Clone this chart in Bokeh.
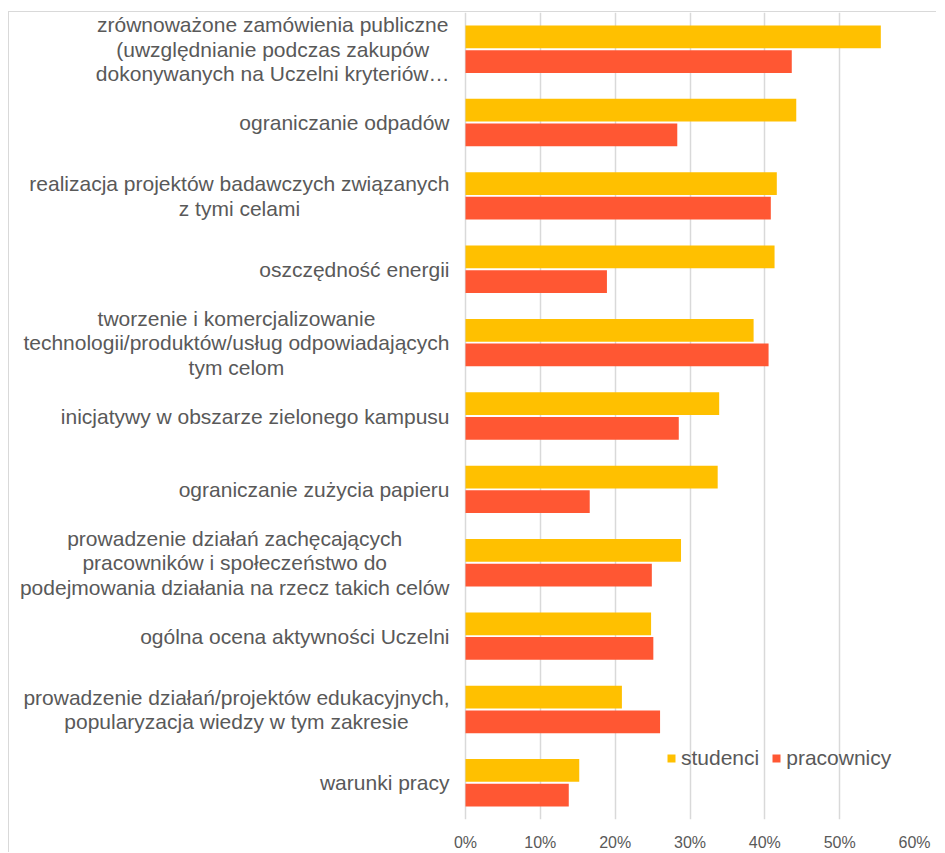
from bokeh.plotting import figure
from bokeh.models import (ColumnDataSource, FactorRange, Range1d, FixedTicker,
                          PrintfTickFormatter, Legend, LegendItem)
from bokeh.transform import dodge
from bokeh.core.properties import value
from bokeh.embed import file_html
from bokeh.resources import INLINE

# ---------------- data (top to bottom, as in the reference) ----------------
categories = [
    "zrównoważone zamówienia publiczne\n(uwzględnianie podczas zakupów\ndokonywanych na Uczelni kryteriów…",
    "ograniczanie odpadów",
    "realizacja projektów badawczych związanych\nz tymi celami",
    "oszczędność energii",
    "tworzenie i komercjalizowanie\ntechnologii/produktów/usług odpowiadających\ntym celom",
    "inicjatywy w obszarze zielonego kampusu",
    "ograniczanie zużycia papieru",
    "prowadzenie działań zachęcających\npracowników i społeczeństwo do\npodejmowania działania na rzecz takich celów",
    "ogólna ocena aktywności Uczelni",
    "prowadzenie działań/projektów edukacyjnych,\npopularyzacja wiedzy w tym zakresie",
    "warunki pracy",
]
studenci = [55.5, 44.2, 41.6, 41.3, 38.5, 33.9, 33.7, 28.8, 24.8, 20.9, 15.2]
pracownicy = [43.6, 28.3, 40.8, 18.9, 40.5, 28.5, 16.6, 24.9, 25.1, 26.0, 13.8]
x_ticks = [0, 10, 20, 30, 40, 50, 60]
series_names = ["studenci", "pracownicy"]

# ---------------- style ----------------
YELLOW = "#FFC000"
RED = "#FF5733"
GREY_TEXT = "#595959"
GRID = "#d9d9d9"
FONT = "Liberation Sans"

W, H = 928, 841
ZERO_PX = 456      # canvas x of 0 %
SPAN_PX = 449      # pixels from 0 % to 60 %
FRAME_H = 807

src = ColumnDataSource(dict(cat=categories, stud=studenci, prac=pracownicy))

p = figure(
    width=W, height=H,
    y_range=FactorRange(factors=list(reversed(categories))),
    x_range=Range1d(-ZERO_PX * x_ticks[-1] / SPAN_PX, x_ticks[-1]),
    output_backend="svg", toolbar_location=None,
    y_axis_location=None,
    min_border_left=0, min_border_right=W - ZERO_PX - SPAN_PX,
    min_border_top=0, min_border_bottom=H - FRAME_H,
)
p.styles = {"margin-top": "11px", "margin-left": "8px",
            "border-left": "1px solid #d9d9d9",
            "border-top": "1px solid #d9d9d9"}
p.outline_line_color = None
p.background_fill_color = "white"
p.border_fill_color = "white"

r1 = p.hbar(y=dodge("cat", 0.168, range=p.y_range), right="stud", left=0,
            height=0.31, source=src, fill_color=YELLOW, line_color=None)
r2 = p.hbar(y=dodge("cat", -0.168, range=p.y_range), right="prac", left=0,
            height=0.31, source=src, fill_color=RED, line_color=None)

# category labels, right-anchored block with centred lines
p.text(x=0, y="cat", text="cat", source=src, x_offset=-16,
       anchor="center_right", text_align="center", text_baseline="middle",
       text_font=value(FONT), text_font_size="21px", text_color=GREY_TEXT,
       text_line_height=1.07)

p.xaxis.ticker = FixedTicker(ticks=x_ticks)
p.xaxis.formatter = PrintfTickFormatter(format="%d%%")
p.xaxis.axis_line_color = None
p.xaxis.major_tick_line_color = None
p.xaxis.minor_tick_line_color = None
p.xaxis.major_tick_out = 0
p.xaxis.major_tick_in = 0
p.xaxis.minor_tick_out = 0
p.xaxis.minor_tick_in = 0
p.xaxis.major_label_standoff = 14
p.xaxis.major_label_text_font = FONT
p.xaxis.major_label_text_font_size = "16px"
p.xaxis.major_label_text_color = GREY_TEXT

p.xgrid.ticker = FixedTicker(ticks=x_ticks)
p.xgrid.grid_line_color = GRID
p.xgrid.grid_line_width = 1.5
p.ygrid.grid_line_color = None

legend = Legend(
    items=[LegendItem(label=series_names[0], renderers=[r1]),
           LegendItem(label=series_names[1], renderers=[r2])],
    orientation="horizontal", location=(657, 49),
    glyph_width=10, glyph_height=10, label_standoff=5, spacing=12,
    padding=0, margin=0, border_line_color=None, background_fill_alpha=0,
    label_text_font=FONT, label_text_font_size="21px", label_text_color=GREY_TEXT,
)
p.add_layout(legend)

open("out.html", "w").write(file_html(p, INLINE))
